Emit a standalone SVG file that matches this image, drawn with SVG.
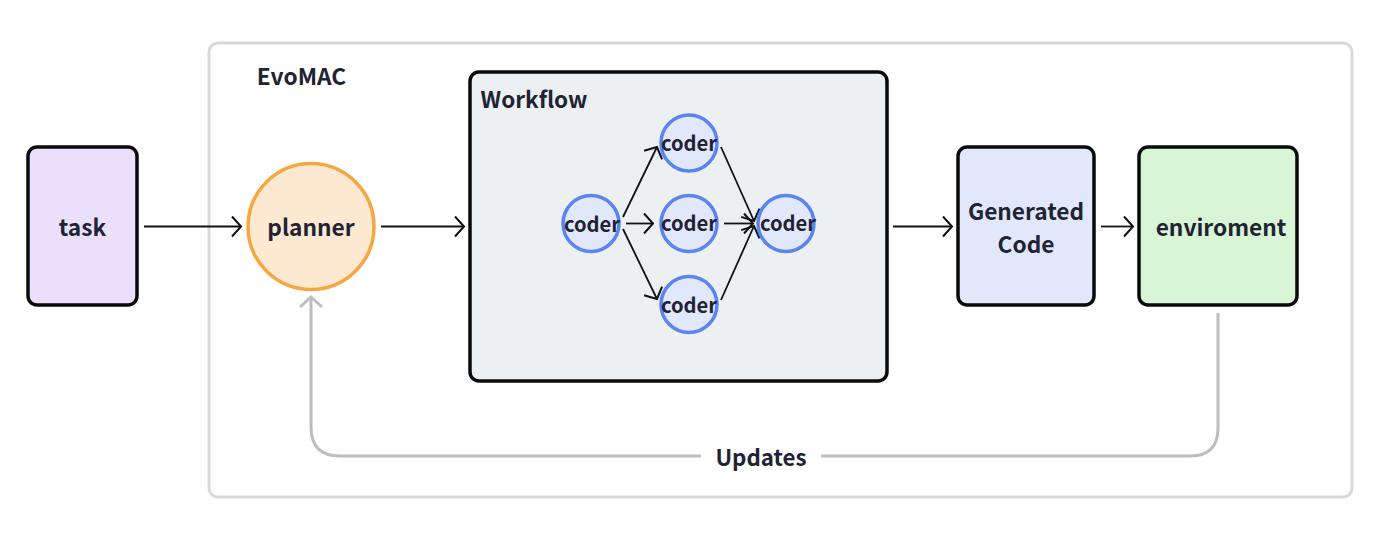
<svg xmlns="http://www.w3.org/2000/svg" width="1400" height="548" viewBox="0 0 1400 548">
<style>
text{font-family:"Noto Sans CJK SC","Noto Sans",sans-serif;font-weight:700;fill:#1f2333;text-anchor:middle}
.box{stroke:#0a0a0a;stroke-width:3.500}
.lbl{font-size:22.700px}
.c circle{fill:#e2e8fc;stroke:#5b85ee;stroke-width:3.500}
.c text{font-size:20.200px}
.k{fill:none;stroke:#111;stroke-width:1.800}
.g{fill:none;stroke:#bdbdc0;stroke-width:3}
</style>
<defs>
<marker id="a" markerUnits="userSpaceOnUse" markerWidth="24" markerHeight="24" refX="12" refY="12" orient="auto"><path d="M3 2 L12 12 L3 22" fill="none" stroke="#111" stroke-width="2"/></marker>
<marker id="b" markerUnits="userSpaceOnUse" markerWidth="28" markerHeight="28" refX="14" refY="14" orient="auto"><path d="M4 3 L14 14 L4 25" fill="none" stroke="#bdbdc0" stroke-width="3"/></marker>
</defs>
<rect width="1400" height="548" fill="#fff"/>
<g id="evomac"><rect x="209" y="43" width="1143" height="454" rx="9" fill="#fff" stroke="#d9d9d9" stroke-width="3"/><text x="301.500" y="85" font-size="22.700">EvoMAC</text></g>
<g id="workflow"><rect x="470" y="72" width="417" height="309" rx="9" fill="#edf0f3" class="box"/><text x="534" y="108" font-size="22.500">Workflow</text></g>
<g id="connectors">
<path class="k" d="M144 226.500H241" marker-end="url(#a)"/>
<path class="k" d="M381 226.500H464" marker-end="url(#a)"/>
<path class="k" d="M893 226.500H952" marker-end="url(#a)"/>
<path class="k" d="M1101 226.500H1133" marker-end="url(#a)"/>
<path class="k" d="M623 217L657 147" marker-end="url(#a)"/>
<path class="k" d="M626 223.500H653" marker-end="url(#a)"/>
<path class="k" d="M623 229L657 299" marker-end="url(#a)"/>
<path class="k" d="M721 147L754 221" marker-end="url(#a)"/>
<path class="k" d="M724 223.500H753" marker-end="url(#a)"/>
<path class="k" d="M721 300L754 226" marker-end="url(#a)"/>
<path class="g" d="M701 456H340Q311 456 311 427V297" marker-end="url(#b)"/>
<path class="g" d="M1218 313V428Q1218 456 1190 456H821"/>
<text x="761" y="466" font-size="22.300">Updates</text>
</g>
<g id="task"><rect x="28" y="147" width="109" height="158" rx="9" fill="#ebe0fc" class="box"/><text class="lbl" x="82.500" y="236">task</text></g>
<g id="planner"><circle cx="311" cy="226.500" r="63" fill="#fde9d1" stroke="#f5a742" stroke-width="3.500"/><text class="lbl" x="311" y="236">planner</text></g>
<g id="coder-1" class="c"><circle cx="591" cy="223.500" r="28"/><text x="592" y="232">coder</text></g>
<g id="coder-2" class="c"><circle cx="689" cy="143" r="28"/><text x="689" y="151">coder</text></g>
<g id="coder-3" class="c"><circle cx="689" cy="223.500" r="28"/><text x="689" y="231">coder</text></g>
<g id="coder-4" class="c"><circle cx="689" cy="304.500" r="28"/><text x="689" y="313">coder</text></g>
<g id="coder-5" class="c"><circle cx="786" cy="223.500" r="28"/><text x="788" y="231">coder</text></g>
<g id="generated-code"><rect x="958" y="147" width="136" height="158" rx="9" fill="#e2e8fc" class="box"/><text class="lbl" x="1026" y="220">Generated</text><text class="lbl" x="1026" y="253">Code</text></g>
<g id="enviroment"><rect x="1139" y="147" width="158" height="158" rx="9" fill="#d8f5d6" class="box"/><text class="lbl" x="1221" y="236">enviroment</text></g>
</svg>
